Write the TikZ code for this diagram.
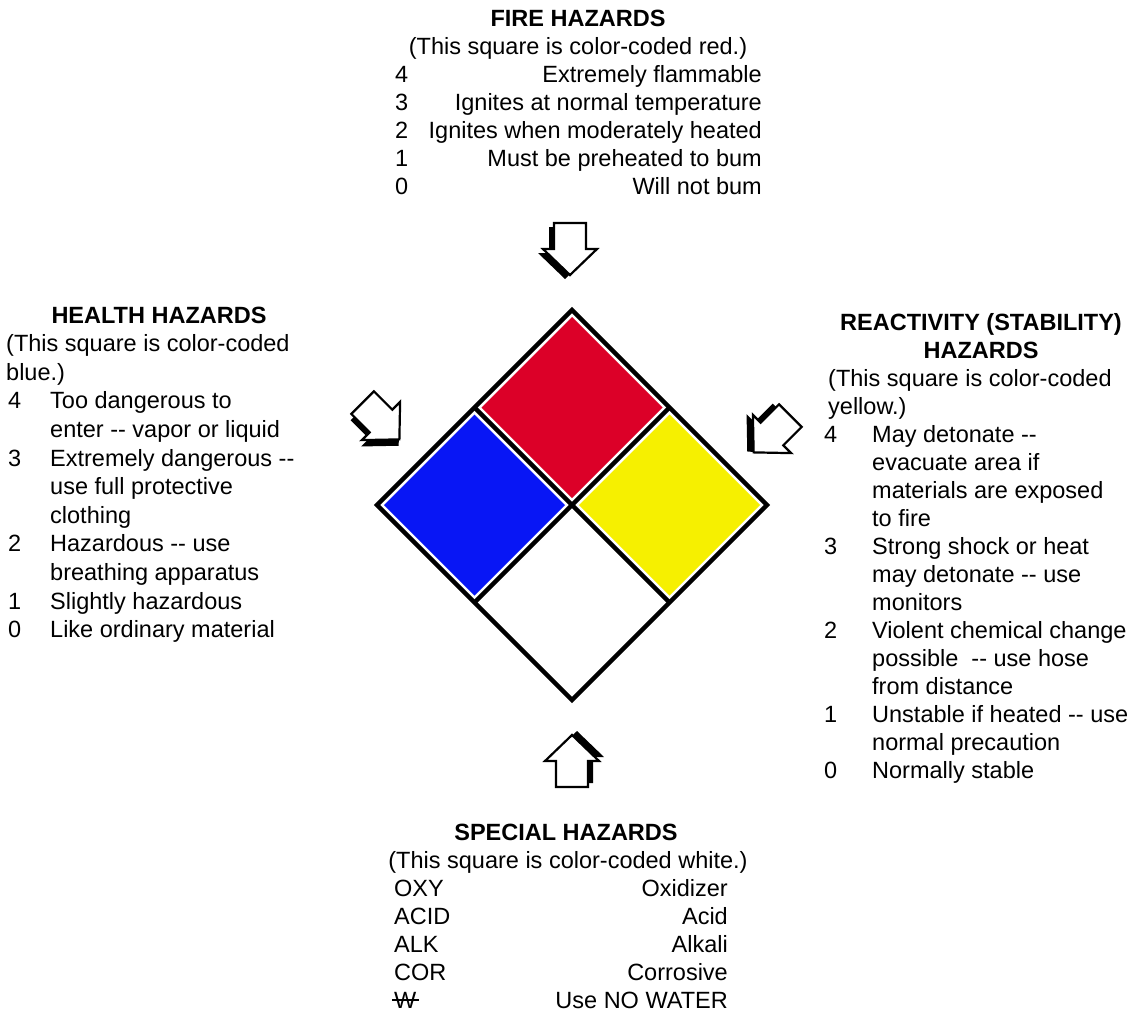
\documentclass[tikz,border=0pt]{standalone}
\usepackage{fontspec}
\setmainfont{Liberation Sans}
\usetikzlibrary{calc}
\definecolor{fogo}{RGB}{220,0,40}
\definecolor{saude}{RGB}{8,22,245}
\definecolor{reativo}{RGB}{246,240,0}
\newcommand{\fonte}{\fontsize{23.5}{28}\selectfont}
\newcommand{\hifen}{-{}-}

\tikzset{
  titulo/.style={font=\fonte\bfseries, anchor=base, inner sep=0pt},
  centro/.style={anchor=base, inner sep=0pt},
  texto/.style={anchor=base west, inner sep=0pt},
  textod/.style={anchor=base east, inner sep=0pt},
  seta/.pic={
    % shadow
    \fill[black, shift={(-5,4)}] (-16,-26) -- (16,-26) -- (16,0) -- (27,0) -- (0,26) -- (-27,0) -- (-16,0) -- cycle;
    \filldraw[fill=white, draw=black, line width=2.2pt] (-16,-26) -- (16,-26) -- (16,0) -- (27,0) -- (0,26) -- (-27,0) -- (-16,0) -- cycle;
  }
}

\begin{document}
\begin{tikzpicture}[x=1pt, y=-1pt, font=\fonte]
    % Page
    \fill[white] (0,0) rectangle (1131,1015);
    \useasboundingbox (0,0) rectangle (1131,1015);
    % Diamond
    \coordinate (topo) at (572,310);
    \coordinate (dir) at (767,505);
    \coordinate (base) at (572,700);
    \coordinate (esq) at (377,505);
    \coordinate (C) at (572,505);
    \foreach \cor/\dx/\dy in {fogo/0/-97.5, saude/-97.5/0, reativo/97.5/0} {
        \fill[\cor] ($(C)+(\dx,\dy)+(0,-90.5)$) -- ++(90.5,90.5) -- ++(-90.5,90.5) -- ++(-90.5,-90.5) -- cycle;
    }
    \draw[line width=4.5pt] (topo) -- (dir) -- (base) -- (esq) -- cycle;
    \draw[line width=4.5pt] ($(topo)!0.5!(esq)$) -- ($(dir)!0.5!(base)$);
    \draw[line width=4.5pt] ($(topo)!0.5!(dir)$) -- ($(esq)!0.5!(base)$);
    % Arrows
    \pic at (570,249) {seta};
    \pic[rotate=45] at (381,421) {seta};
    \pic[rotate=-45] at (772,434) {seta};
    \pic[rotate=180] at (572,761) {seta};
    % Fire hazards
    \node[titulo] (fogoT) at (578,26) {FIRE HAZARDS};
    \node[centro] (fogoS) at (578,54) {(This square is color-coded red.)};
    \foreach \n/\t [count=\k] in {4/Extremely flammable, 3/Ignites at normal temperature,
        2/Ignites when moderately heated, 1/Must be preheated to bum, 0/Will not bum} {
        \node[texto] (fogoN\k) at (395,54+28*\k) {\n};
        \node[textod] (fogoD\k) at (762,54+28*\k) {\t};
    }
    % Health hazards
    \node[titulo] (saudeT) at (159,323) {HEALTH HAZARDS};
    \node[texto] (saudeS1) at (6,351.6) {(This square is color-coded};
    \node[texto] (saudeS2) at (6,380.2) {blue.)};
    \foreach \j/\n/\t in {3/4/Too dangerous to, 4//enter \hifen{} vapor or liquid,
        5/3/Extremely dangerous \hifen, 6//use full protective, 7//clothing,
        8/2/Hazardous \hifen{} use, 9//breathing apparatus,
        10/1/Slightly hazardous, 11/0/Like ordinary material} {
        \node[texto] (saudeN\j) at (8,323+28.6*\j) {\n};
        \node[texto] (saudeD\j) at (50,323+28.6*\j) {\t};
    }
    % Reactivity hazards
    \node[titulo] (reatT1) at (981,330) {REACTIVITY (STABILITY)};
    \node[titulo] (reatT2) at (981,358) {HAZARDS};
    \node[texto] (reatS1) at (828,386) {(This square is color-coded};
    \node[texto] (reatS2) at (828,414) {yellow.)};
    \foreach \j/\n/\t in {4/4/May detonate \hifen, 5//evacuate area if,
        6//materials are exposed, 7//to fire,
        8/3/Strong shock or heat, 9//may detonate \hifen{} use, 10//monitors,
        11/2/Violent chemical change, 12//possible \ \hifen{} use hose, 13//from distance,
        14/1/Unstable if heated \hifen{} use, 15//normal precaution,
        16/0/Normally stable} {
        \node[texto] (reatN\j) at (824,330+28*\j) {\n};
        \node[texto] (reatD\j) at (872,330+28*\j) {\t};
    }
    % Special hazards
    \node[titulo] (espT) at (566,840) {SPECIAL HAZARDS};
    \node[centro] (espS) at (568,868) {(This square is color-coded white.)};
    \foreach \c/\t [count=\k] in {OXY/Oxidizer, ACID/Acid, ALK/Alkali,
        COR/Corrosive, W/Use NO WATER} {
        \node[texto] (espC\k) at (394,868+28*\k) {\c};
        \node[textod] (espD\k) at (728,868+28*\k) {\t};
    }
    \draw[line width=1.3pt] ($(espC5.base west)+(-2,-8)$) -- ($(espC5.base east)+(2,-8)$);
\end{tikzpicture}
\end{document}
